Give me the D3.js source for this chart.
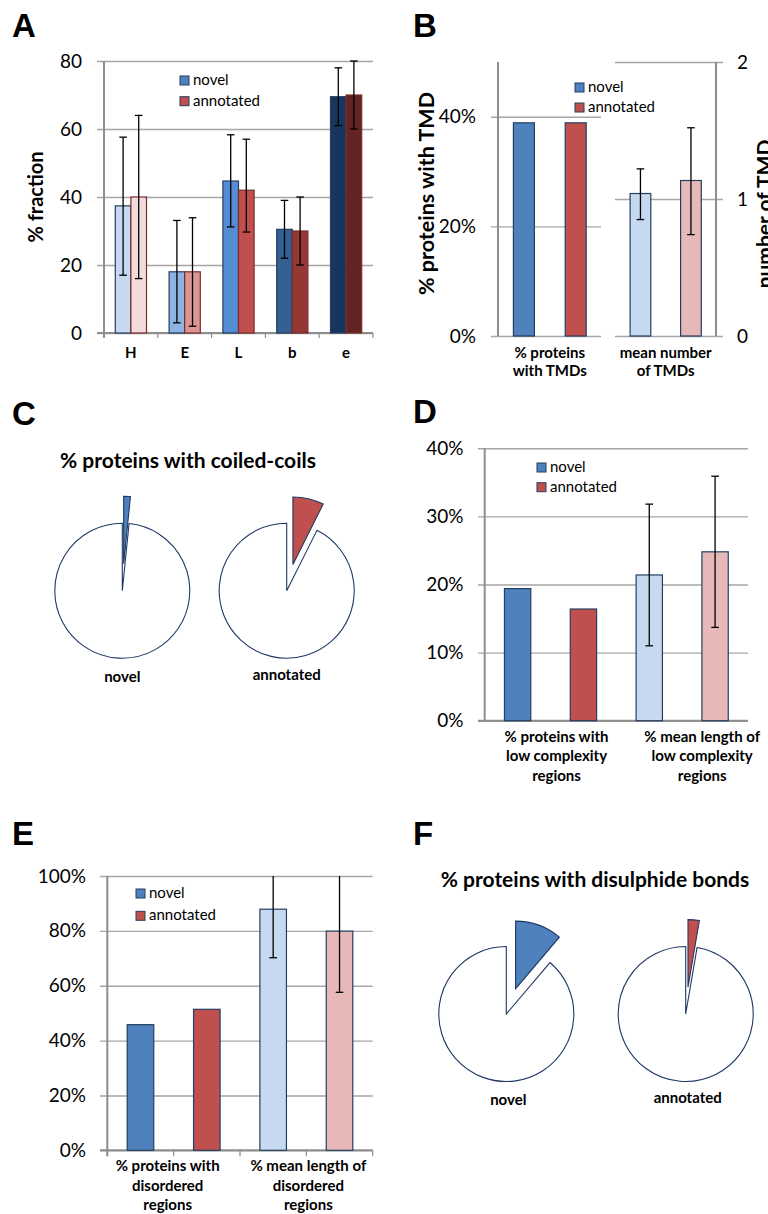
<!DOCTYPE html>
<html>
<head>
<meta charset="utf-8">
<script src="https://cdn.jsdelivr.net/npm/d3@7"></script>
<style>
	body { margin: 0; background: #fff; }
	svg { display: block; }
	text { font-family: Lato, "Open Sans", sans-serif; fill: #000; }
	.tickLabel { font-size: 19px; }
	.cat { font-size: 15px; font-weight: bold; }
	.axisTitle { font-size: 20px; font-weight: bold; }
	.panelLetter { font-family: "Liberation Sans", Arial, sans-serif; font-size: 33px; font-weight: bold; }
	.legendText { font-size: 15px; }
	.title { font-size: 21px; font-weight: bold; }
	.grid { stroke: #a6a6a6; stroke-width: 1.4; }
	.axisLine { stroke: #8e8e8e; stroke-width: 2; }
	.err { stroke: #000; stroke-width: 1.3; }
</style>
</head>
<body>
<div id="chart"></div>
<script>
	///////////////////////////////////////////////////////////////////////////
	//////////////////////////////// Data ////////////////////////////////////
	///////////////////////////////////////////////////////////////////////////

	var seriesNames = ["novel", "annotated"];

	// A - secondary structure
	var aCategories = ["H", "E", "L", "b", "e"];
	var aNovel     = [37.4, 18.0, 44.7, 30.5, 69.5];
	var aNovelLow  = [17.0,  3.0, 31.2, 22.0, 61.0];
	var aNovelHigh = [57.6, 33.1, 58.3, 39.0, 78.0];
	var aAnnot     = [40.0, 18.0, 42.0, 30.0, 70.0];
	var aAnnotLow  = [16.0,  2.0, 29.7, 20.0, 60.0];
	var aAnnotHigh = [64.0, 33.9, 57.0, 40.0, 80.0];
	var aTicks = [0, 20, 40, 60, 80];

	// B - transmembrane domains
	var bGroupLabels = [["% proteins", "with TMDs"], ["mean number", "of TMDs"]];
	var bPercent  = [0.389, 0.389];
	var bMean     = [1.04, 1.135];
	var bMeanLow  = [0.85, 0.74];
	var bMeanHigh = [1.22, 1.52];
	var bLeftTicks = [0, 0.2, 0.4];
	var bRightTicks = [0, 1, 2];

	// C - coiled coils (%)
	var cTitle = "% proteins with coiled-coils";
	var cPercent = [1.6, 7.4];

	// D - low complexity regions
	var dGroupLabels = [["% proteins with", "low complexity", "regions"], ["% mean length of", "low complexity", "regions"]];
	var dValues = [0.194, 0.164, 0.214, 0.248];
	var dLow    = [null, null, 0.110, 0.137];
	var dHigh   = [null, null, 0.318, 0.359];
	var dTicks = [0, 0.1, 0.2, 0.3, 0.4];

	// E - disordered regions
	var eGroupLabels = [["% proteins with", "disordered", "regions"], ["% mean length of", "disordered", "regions"]];
	var eValues = [0.458, 0.514, 0.879, 0.799];
	var eLow    = [null, null, 0.702, 0.576];
	var eHigh   = [null, null, 1.056, 1.022];
	var eTicks = [0, 0.2, 0.4, 0.6, 0.8, 1.0];

	// F - disulphide bonds (%)
	var fTitle = "% proteins with disulphide bonds";
	var fPercent = [11.2, 2.7];

	// colours
	var aNovelColors = ["#c6d9f1", "#8db3e2", "#548dd4", "#366092", "#17365d"];
	var aAnnotColors = ["#f2dcdb", "#d99694", "#c0504d", "#953735", "#632523"];
	var quadColors = ["#4f81bd", "#c0504d", "#c6d9f1", "#e6b9b8"];
	var legendColors = ["#4f81bd", "#c0504d"];
	var navy = "#243f60";

	var pct = d3.format(".0%");

	var svg = d3.select("#chart").append("svg")
		.attr("width", 768)
		.attr("height", 1214);

	///////////////////////////////////////////////////////////////////////////
	/////////////////////////////// Helpers //////////////////////////////////
	///////////////////////////////////////////////////////////////////////////

	function panelLetter(letter, x, y) {
		svg.append("text").attr("class", "panelLetter").attr("x", x).attr("y", y).text(letter);
	}

	//gridlines + tick labels through a d3 axis
	function gridAxis(y, ticks, fmt, xStart, xEnd, pad, right) {
		var axis = (right ? d3.axisRight(y) : d3.axisLeft(y))
			.tickValues(ticks)
			.tickFormat(fmt)
			.tickSizeOuter(0)
			.tickSizeInner(-(xEnd - xStart))
			.tickPadding(pad);
		var g = svg.append("g")
			.attr("transform", "translate(" + (right ? xEnd : xStart) + ",0)")
			.call(axis);
		g.select(".domain").remove();
		g.selectAll(".tick line").attr("class", "grid");
		g.selectAll(".tick text").attr("class", "tickLabel");
		return g;
	}

	function vLine(x, y1, y2) {
		svg.append("line").attr("class", "axisLine")
			.attr("x1", x).attr("x2", x).attr("y1", y1).attr("y2", y2);
	}

	function hLine(y, x1, x2) {
		svg.append("line").attr("class", "axisLine")
			.attr("x1", x1).attr("x2", x2).attr("y1", y).attr("y2", y);
	}

	function errorBar(y, cx, low, high) {
		var top = y.domain()[1];
		var capW = 3.8;
		svg.append("line").attr("class", "err")
			.attr("x1", cx).attr("x2", cx)
			.attr("y1", y(low)).attr("y2", y(Math.min(high, top)));
		svg.append("line").attr("class", "err")
			.attr("x1", cx - capW).attr("x2", cx + capW)
			.attr("y1", y(low)).attr("y2", y(low));
		if (high <= top) {
			svg.append("line").attr("class", "err")
				.attr("x1", cx - capW).attr("x2", cx + capW)
				.attr("y1", y(high)).attr("y2", y(high));
		}
	}

	function legend(x, y, step) {
		var g = svg.append("g").attr("transform", "translate(" + x + "," + y + ")");
		var item = g.selectAll("g").data(seriesNames).enter().append("g")
			.attr("transform", function(d, i) { return "translate(0," + (i * step) + ")"; });
		item.append("rect")
			.attr("x", 0).attr("y", -8.5)
			.attr("width", 9).attr("height", 9)
			.style("fill", function(d, i) { return legendColors[i]; })
			.style("stroke", navy).style("stroke-width", 1);
		item.append("text").attr("class", "legendText")
			.attr("x", 13).attr("y", 0.5)
			.text(function(d) { return d; });
	}

	function multiLabel(lines, x, y, step) {
		var t = svg.append("text").attr("class", "cat").style("text-anchor", "middle");
		lines.forEach(function(line, i) {
			t.append("tspan").attr("x", x).attr("y", y + i * step).text(line);
		});
	}

	function bars(x, y, values, colors, strokes, widthFrac) {
		var w = x.bandwidth() * widthFrac;
		svg.append("g").selectAll("rect")
			.data(values)
			.enter().append("rect")
			.attr("x", function(d, i) { return x(i) + (x.bandwidth() - w) / 2; })
			.attr("y", function(d) { return y(d); })
			.attr("width", w)
			.attr("height", function(d) { return y(0) - y(d); })
			.style("fill", function(d, i) { return colors[i]; })
			.style("stroke", function(d, i) { return strokes[i]; })
			.style("stroke-width", 1.2);
	}

	function pieChart(cx, cy, value, color) {
		var r = 67.5, explode = 27;
		var pie = d3.pie().sort(null).value(function(d) { return d; });
		var arc = d3.arc().innerRadius(0).outerRadius(r);
		var slices = pie([value, 100 - value]);
		var mid = (slices[0].startAngle + slices[0].endAngle) / 2;
		svg.append("path")
			.attr("d", arc(slices[1]))
			.attr("transform", "translate(" + cx + "," + cy + ")")
			.style("fill", "#fff").style("stroke", "#1f3864").style("stroke-width", 1.1);
		svg.append("path")
			.attr("d", arc(slices[0]))
			.attr("transform", "translate(" + (cx + Math.sin(mid) * explode) + "," + (cy - Math.cos(mid) * explode) + ")")
			.style("fill", color).style("stroke", "#1f3864").style("stroke-width", 1.1);
	}

	///////////////////////////////////////////////////////////////////////////
	/////////////////////////////// Panel A //////////////////////////////////
	///////////////////////////////////////////////////////////////////////////

	panelLetter("A", 12, 37);

	var aY = d3.scaleLinear().domain([0, 80]).range([333, 61]);
	var aX = d3.scaleBand().domain(aCategories).range([104, 373]);

	gridAxis(aY, aTicks, d3.format("d"), 97, 373, 15, false);
	vLine(104, aY(80), aY(0) + 5);
	hLine(aY(0), 97, 373);

	//boundary ticks
	svg.selectAll(".aTick")
		.data(aCategories.map(function(c) { return aX(c); }).concat([aX.range()[1]]))
		.enter().append("line")
		.attr("class", "axisLine")
		.style("stroke-width", 1.2)
		.attr("x1", function(d) { return d; }).attr("x2", function(d) { return d; })
		.attr("y1", aY(0)).attr("y2", aY(0) + 5);

	var aBarW = aX.bandwidth() * 0.29;
	var aG = svg.append("g");
	aCategories.forEach(function(c, i) {
		var cx = aX(c) + aX.bandwidth() / 2;
		aG.append("rect")
			.attr("x", cx - aBarW).attr("y", aY(aNovel[i]))
			.attr("width", aBarW).attr("height", aY(0) - aY(aNovel[i]))
			.style("fill", aNovelColors[i]).style("stroke", navy).style("stroke-width", 1.2);
		aG.append("rect")
			.attr("x", cx).attr("y", aY(aAnnot[i]))
			.attr("width", aBarW).attr("height", aY(0) - aY(aAnnot[i]))
			.style("fill", aAnnotColors[i]).style("stroke", "#7a2d2b").style("stroke-width", 1.2);
	});
	aCategories.forEach(function(c, i) {
		var cx = aX(c) + aX.bandwidth() / 2;
		errorBar(aY, cx - aBarW / 2, aNovelLow[i], aNovelHigh[i]);
		errorBar(aY, cx + aBarW / 2, aAnnotLow[i], aAnnotHigh[i]);
	});

	var aXAxis = svg.append("g")
		.attr("transform", "translate(0," + aY(0) + ")")
		.call(d3.axisBottom(aX).tickSize(0).tickPadding(14));
	aXAxis.select(".domain").remove();
	aXAxis.selectAll("text").attr("class", "cat");

	svg.append("text").attr("class", "axisTitle")
		.attr("transform", "translate(43," + ((aY(0) + aY(80)) / 2) + ") rotate(-90)")
		.style("text-anchor", "middle")
		.text("% fraction");

	legend(180, 84.5, 20.7);

	///////////////////////////////////////////////////////////////////////////
	/////////////////////////////// Panel B //////////////////////////////////
	///////////////////////////////////////////////////////////////////////////

	panelLetter("B", 413, 37);

	var bYL = d3.scaleLinear().domain([0, 0.5]).range([336, 62]);
	var bYR = d3.scaleLinear().domain([0, 2]).range([336, 62]);
	var bXL = d3.scaleBand().domain([0, 1]).range([498, 601.6]);
	var bXR = d3.scaleBand().domain([0, 1]).range([615.2, 716.2]);

	gridAxis(bYL, bLeftTicks, pct, 491, 601, 15, false);
	gridAxis(bYR, bRightTicks, d3.format("d"), 615, 723, 14, true);
	vLine(498, bYL(0.5), bYL(0));
	vLine(716, bYR(2), bYR(0));

	bars(bXL, bYL, bPercent, quadColors.slice(0, 2), [navy, navy], 0.405);
	bars(bXR, bYR, bMean, quadColors.slice(2, 4), [navy, navy], 0.41);
	bMean.forEach(function(v, i) {
		errorBar(bYR, bXR(i) + bXR.bandwidth() / 2, bMeanLow[i], bMeanHigh[i]);
	});

	multiLabel(bGroupLabels[0], (bXL.range()[0] + bXL.range()[1]) / 2, 358, 18);
	multiLabel(bGroupLabels[1], (bXR.range()[0] + bXR.range()[1]) / 2, 358, 18);

	svg.append("text").attr("class", "axisTitle")
		.style("font-size", "21.5px")
		.attr("transform", "translate(434,193.5) rotate(-90)")
		.style("text-anchor", "middle")
		.text("% proteins with TMD");
	svg.append("text").attr("class", "axisTitle")
		.style("font-size", "21px")
		.attr("transform", "translate(772,214) rotate(-90)")
		.style("text-anchor", "middle")
		.text("number of TMD");

	legend(575, 91.5, 20);

	///////////////////////////////////////////////////////////////////////////
	/////////////////////////////// Panel C //////////////////////////////////
	///////////////////////////////////////////////////////////////////////////

	panelLetter("C", 12, 425);

	svg.append("text").attr("class", "title")
		.attr("x", 188).attr("y", 468)
		.style("text-anchor", "middle")
		.text(cTitle);

	var cCenters = [122.3, 286.7];
	cPercent.forEach(function(v, i) {
		pieChart(cCenters[i], 590.7, v, legendColors[i]);
	});
	svg.selectAll(".cLabel").data(seriesNames).enter().append("text")
		.attr("class", "cat")
		.attr("x", function(d, i) { return cCenters[i]; })
		.attr("y", function(d, i) { return i ? 680 : 681.5; })
		.style("text-anchor", "middle")
		.text(function(d) { return d; });

	///////////////////////////////////////////////////////////////////////////
	/////////////////////////////// Panel D //////////////////////////////////
	///////////////////////////////////////////////////////////////////////////

	panelLetter("D", 413, 423);

	var dY = d3.scaleLinear().domain([0, 0.4]).range([720.7, 448.3]);
	var dX = d3.scaleBand().domain(d3.range(4)).range([484.7, 748]);

	gridAxis(dY, dTicks, pct, 478, 748, 14.5, false);
	vLine(484.7, dY(0.4), dY(0));
	hLine(dY(0), 478, 748);

	bars(dX, dY, dValues, quadColors, [navy, navy, navy, navy], 0.4);
	dValues.forEach(function(v, i) {
		if (dLow[i] !== null) errorBar(dY, dX(i) + dX.bandwidth() / 2, dLow[i], dHigh[i]);
	});

	multiLabel(dGroupLabels[0], dX(1) + 6, 741.5, 19.5);
	multiLabel(dGroupLabels[1], dX(3) + 20, 741.5, 19.5);

	legend(537, 471.5, 19.7);

	///////////////////////////////////////////////////////////////////////////
	/////////////////////////////// Panel E //////////////////////////////////
	///////////////////////////////////////////////////////////////////////////

	panelLetter("E", 12, 845);

	var eY = d3.scaleLinear().domain([0, 1]).range([1150.3, 876]);
	var eX = d3.scaleBand().domain(d3.range(4)).range([107.3, 372.7]);

	gridAxis(eY, eTicks, pct, 100, 372.7, 14, false);
	vLine(107.3, eY(1), eY(0) + 6);
	hLine(eY(0), 100, 372.7);

	svg.selectAll(".eTick")
		.data(d3.range(4).map(function(i) { return eX(i); }).concat([eX.range()[1]]))
		.enter().append("line")
		.attr("class", "axisLine")
		.style("stroke-width", 1.2)
		.attr("x1", function(d) { return d; }).attr("x2", function(d) { return d; })
		.attr("y1", eY(0)).attr("y2", eY(0) + 6);

	bars(eX, eY, eValues, quadColors, [navy, navy, navy, navy], 0.4);
	eValues.forEach(function(v, i) {
		if (eLow[i] !== null) errorBar(eY, eX(i) + eX.bandwidth() / 2, eLow[i], eHigh[i]);
	});

	multiLabel(eGroupLabels[0], eX(1) - 6, 1171, 19.5);
	multiLabel(eGroupLabels[1], eX(3) + 2, 1171, 19.5);

	legend(136, 897.5, 22.3);

	///////////////////////////////////////////////////////////////////////////
	/////////////////////////////// Panel F //////////////////////////////////
	///////////////////////////////////////////////////////////////////////////

	panelLetter("F", 413, 845);

	svg.append("text").attr("class", "title")
		.attr("x", 595).attr("y", 887)
		.style("text-anchor", "middle")
		.text(fTitle);

	var fCenters = [506.3, 685.7];
	fPercent.forEach(function(v, i) {
		pieChart(fCenters[i], 1014, v, legendColors[i]);
	});
	svg.selectAll(".fLabel").data(seriesNames).enter().append("text")
		.attr("class", "cat")
		.attr("x", function(d, i) { return fCenters[i] + 2; })
		.attr("y", function(d, i) { return i ? 1103 : 1105; })
		.style("text-anchor", "middle")
		.text(function(d) { return d; });
</script>
</body>
</html>
